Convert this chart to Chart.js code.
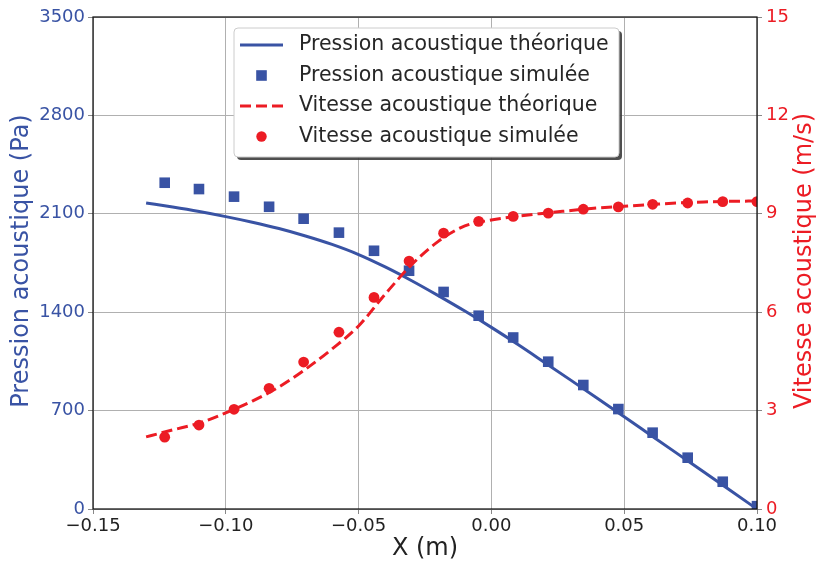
<!DOCTYPE html>
<html>
<head>
<meta charset="utf-8">
<script src="https://cdn.jsdelivr.net/npm/chart.js@4"></script>
<style>
  html, body { margin: 0; padding: 0; background: #fff; }
  #wrap { width: 817px; height: 565px; }
</style>
</head>
<body>
<div id="wrap"><canvas id="myChart" width="817" height="565"></canvas></div>
<script>
const ctx = document.querySelector('#myChart').getContext('2d');

const BLUE = '#3953a4';
const RED = '#ec1c24';
const FONT = "'DejaVu Sans', sans-serif";

// Theoretical curves
const xTheory = [
    -0.13, -0.12, -0.11, -0.10, -0.09, -0.08, -0.07, -0.06, -0.05, -0.04, -0.03, -0.02,
    -0.01, 0.00, 0.01, 0.02, 0.03, 0.04, 0.05, 0.06, 0.07, 0.08, 0.09, 0.10,
];
const pressureTheory = [
    2177, 2148, 2116, 2080, 2040, 1995, 1942, 1882, 1810, 1722, 1624, 1518,
    1408, 1292, 1170, 1043, 915, 786, 656, 525, 394, 263, 131, 0,
];
const velocityTheory = [
    2.20, 2.41, 2.62, 2.93, 3.29, 3.72, 4.26, 4.88, 5.58, 6.55, 7.45, 8.16,
    8.63, 8.81, 8.93, 9.02, 9.10, 9.18, 9.23, 9.28, 9.33, 9.36, 9.38, 9.39,
];

// Simulated points
const xSim = [
    -0.1230, -0.1101, -0.0969, -0.0837, -0.0707, -0.0574, -0.0442, -0.0310, -0.0180,
    -0.0048, 0.0082, 0.0214, 0.0346, 0.0478, 0.0607, 0.0739, 0.0871, 0.1000,
];
const pressureSim = [
    2321, 2276, 2222, 2150, 2065, 1966, 1837, 1695, 1544,
    1375, 1220, 1048, 882, 711, 543, 365, 194, 20,
];
const velocitySim = [
    2.19, 2.56, 3.04, 3.68, 4.48, 5.39, 6.45, 7.56, 8.41,
    8.77, 8.92, 9.02, 9.14, 9.21, 9.29, 9.33, 9.37, 9.37,
];

// Legend labels
const legendLabels = [
    'Pression acoustique théorique',
    'Pression acoustique simulée',
    'Vitesse acoustique théorique',
    'Vitesse acoustique simulée',
];

const pts = (xs, ys) => xs.map((x, i) => ({ x: x, y: ys[i] }));

// spines, axis titles and the boxed legend
const decorPlugin = {
    id: 'decor',
    afterDatasetsDraw(chart) {
        const c = chart.ctx;
        const a = chart.chartArea;
        c.save();
        c.strokeStyle = '#111';
        c.lineWidth = 1.25;
        c.strokeRect(a.left, a.top, a.right - a.left, a.bottom - a.top);
        c.restore();
    },
    afterDraw(chart) {
        const c = chart.ctx;
        const a = chart.chartArea;
        const midY = (a.top + a.bottom) / 2;
        c.save();
        c.font = '24px ' + FONT;
        c.textAlign = 'center';
        c.textBaseline = 'middle';

        c.fillStyle = BLUE;
        c.save();
        c.translate(22, midY - 2);
        c.rotate(-Math.PI / 2);
        c.fillText('Pression acoustique (Pa)', 0, 0);
        c.restore();

        c.fillStyle = RED;
        c.save();
        c.translate(805, midY - 2);
        c.rotate(-Math.PI / 2);
        c.fillText('Vitesse acoustique (m/s)', 0, 0);
        c.restore();

        c.fillStyle = '#222';
        c.fillText('X (m)', (a.left + a.right) / 2, 549);

        // legend box
        const bx = 234, by = 28, bw = 385, bh = 129;
        c.fillStyle = 'rgba(60,60,60,0.9)';
        c.beginPath();
        c.roundRect(bx + 3, by + 3, bw, bh, 4);
        c.fill();
        c.fillStyle = '#fff';
        c.strokeStyle = '#cccccc';
        c.lineWidth = 1;
        c.beginPath();
        c.roundRect(bx, by, bw, bh, 4);
        c.fill();
        c.stroke();

        const rows = [45, 75.5, 106, 136.5];
        const sx0 = 240, sx1 = 283, sxm = 261.5;
        // row 1: solid blue line
        c.strokeStyle = BLUE;
        c.lineWidth = 3;
        c.beginPath();
        c.moveTo(sx0, rows[0]);
        c.lineTo(sx1, rows[0]);
        c.stroke();
        // row 2: square
        c.fillStyle = BLUE;
        c.fillRect(sxm - 5.3, rows[1] - 5.3, 10.6, 10.6);
        // row 3: dashed red line
        c.strokeStyle = RED;
        c.setLineDash([11, 5]);
        c.beginPath();
        c.moveTo(sx0, rows[2]);
        c.lineTo(sx1, rows[2]);
        c.stroke();
        c.setLineDash([]);
        // row 4: circle
        c.fillStyle = RED;
        c.beginPath();
        c.arc(sxm, rows[3], 5.2, 0, Math.PI * 2);
        c.fill();

        c.font = '20.5px ' + FONT;
        c.textAlign = 'left';
        c.fillStyle = '#262626';
        legendLabels.forEach((t, i) => c.fillText(t, 299, rows[i]));
        c.restore();
    },
};

const data = {
    datasets: [
        {
            label: legendLabels[3],
            data: pts(xSim, velocitySim),
            yAxisID: 'y1',
            showLine: false,
            pointStyle: 'circle',
            pointRadius: 5.4,
            pointBorderWidth: 0,
            backgroundColor: RED,
            borderColor: RED,
            clip: 0,
        },
        {
            label: legendLabels[2],
            data: pts(xTheory, velocityTheory),
            yAxisID: 'y1',
            showLine: true,
            pointRadius: 0,
            borderColor: RED,
            borderWidth: 3,
            borderDash: [11, 5],
            cubicInterpolationMode: 'monotone',
            clip: 0,
        },
        {
            label: legendLabels[1],
            data: pts(xSim, pressureSim),
            yAxisID: 'y',
            showLine: false,
            pointStyle: 'rect',
            pointRadius: 7.5,
            pointBorderWidth: 0,
            backgroundColor: BLUE,
            borderColor: BLUE,
            clip: 0,
        },
        {
            label: legendLabels[0],
            data: pts(xTheory, pressureTheory),
            yAxisID: 'y',
            showLine: true,
            pointRadius: 0,
            borderColor: BLUE,
            borderWidth: 3,
            cubicInterpolationMode: 'monotone',
            clip: 0,
        },
    ],
};

const config = {
    type: 'scatter',
    data: data,
    options: {
        responsive: false,
        animation: false,
        layout: { padding: { top: 17, left: 0, right: 0, bottom: 0 } },
        plugins: {
            legend: { display: false },
            tooltip: { enabled: false },
        },
        scales: {
            x: {
                type: 'linear',
                min: -0.15,
                max: 0.10,
                afterFit: (s) => { s.height = 56; },
                ticks: {
                    stepSize: 0.05,
                    padding: 2,
                    color: '#222',
                    font: { family: FONT, size: 18 },
                    callback: (v) => {
                        if (Math.abs(v) < 1e-9) return '0.00';
                        return (v < 0 ? '\u2212' : '') + Math.abs(v).toFixed(2);
                    },
                },
                grid: { color: '#b0b0b0', lineWidth: 1, tickLength: 5, tickColor: '#888' },
                border: { display: false },
            },
            y: {
                position: 'left',
                min: 0,
                max: 3500,
                afterFit: (s) => { s.width = 93; },
                ticks: {
                    stepSize: 700,
                    padding: 3,
                    color: BLUE,
                    font: { family: FONT, size: 18 },
                    callback: (v) => String(v),
                },
                grid: { color: '#b0b0b0', lineWidth: 1, tickLength: 5, tickColor: '#888' },
                border: { display: false },
            },
            y1: {
                position: 'right',
                min: 0,
                max: 15,
                afterFit: (s) => { s.width = 60; },
                ticks: {
                    stepSize: 3,
                    padding: 4,
                    color: RED,
                    font: { family: FONT, size: 18 },
                    callback: (v) => String(v),
                },
                grid: { drawOnChartArea: false, tickLength: 5, tickColor: '#888' },
                border: { display: false },
            },
        },
    },
    plugins: [decorPlugin],
};

const myChart = new Chart(ctx, config);
</script>
</body>
</html>
